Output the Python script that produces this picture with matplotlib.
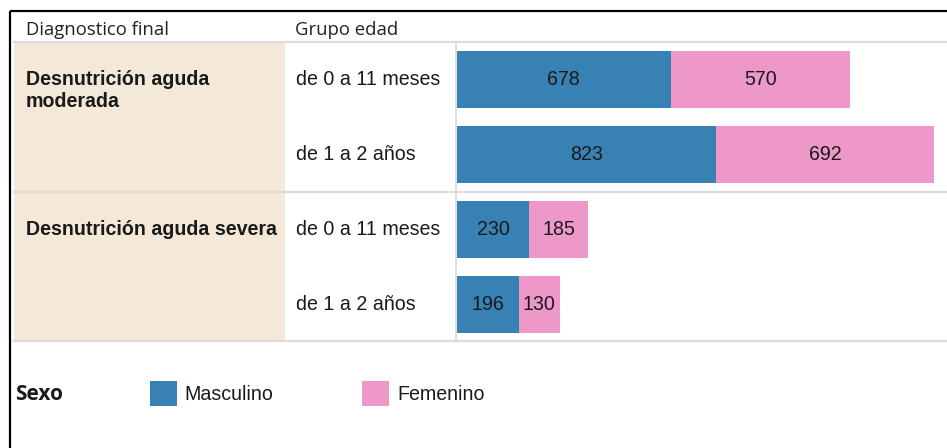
import matplotlib.pyplot as plt
from matplotlib.patches import Rectangle

# data
diagnosticos = ['Desnutrición aguda\nmoderada', 'Desnutrición aguda severa']
grupos = ['de 0 a 11 meses', 'de 1 a 2 años', 'de 0 a 11 meses', 'de 1 a 2 años']
masculino = [678, 823, 230, 196]
femenino = [570, 692, 185, 130]
series = ['Masculino', 'Femenino']

blue = '#3781b4'
pink = '#ee97c9'
beige = '#f4e9d8'
grid = '#dcdcdc'
txt = '#1a1a1a'
fs = 14.1

W, H = 947, 448
fig = plt.figure(figsize=(W / 100, H / 100), dpi=100)

# overlay in pixel coords for the table part
ax0 = fig.add_axes([0, 0, 1, 1])
ax0.set_xlim(0, W)
ax0.set_ylim(H, 0)
ax0.axis('off')

# frame
ax0.plot([9.5, W], [11.5, 11.5], color='black', lw=1.6, solid_capstyle='butt')
ax0.plot([9.5, 9.5], [11.5, H], color='black', lw=1.6, solid_capstyle='butt')

# header
hfont = dict(family='Open Sans', fontsize=13.3, color='#222222', va='center')
ax0.text(26, 30, 'Diagnostico final', **hfont)
ax0.text(295, 30, 'Grupo edad', **hfont)

# beige blocks and separators
ax0.add_patch(Rectangle((14, 43), 271, 148, color=beige, lw=0))
ax0.add_patch(Rectangle((14, 193), 271, 148, color=beige, lw=0))
for y in [42.5, 192, 341]:
    ax0.plot([14, W], [y, y], color=grid, lw=1.6)
ax0.plot([456, 456], [42, 341], color=grid, lw=1.3)

# diagnosis labels
bfont = dict(family='Liberation Sans', fontsize=fs, fontweight='bold', color=txt)
ax0.text(26, 70, diagnosticos[0], va='top', linespacing=1.2, **bfont)
ax0.text(26, 229.5, diagnosticos[1], va='center', **bfont)

# age group labels
row_y = [79.5, 154.5, 229.5, 304.5]
for y, g in zip(row_y, grupos):
    ax0.text(296, y, g, family='Liberation Sans', fontsize=fs, color=txt, va='center')

# legend
ax0.text(15, 395, 'Sexo', family='Open Sans', fontsize=15, fontweight='bold',
         color=txt, va='center')
ax0.add_patch(Rectangle((150, 381), 27, 25, color=blue, lw=0))
ax0.text(184, 395, series[0], family='Liberation Sans', fontsize=fs, color=txt, va='center')
ax0.add_patch(Rectangle((362, 381), 27, 25, color=pink, lw=0))
ax0.text(397, 395, series[1], family='Liberation Sans', fontsize=fs, color=txt, va='center')

# bars
bx0, bx1 = 457, W
by0, by1 = 42, 342
ax = fig.add_axes([bx0 / W, 1 - by1 / H, (bx1 - bx0) / W, (by1 - by0) / H])
ax.patch.set_alpha(0)
pos = list(range(len(masculino)))
b1 = ax.barh(pos, masculino, height=0.76, color=blue, label=series[0])
b2 = ax.barh(pos, femenino, left=masculino, height=0.76, color=pink, label=series[1])
ax.bar_label(b1, label_type='center', fontsize=fs, color=txt, family='Liberation Sans')
ax.bar_label(b2, label_type='center', fontsize=fs, color=txt, family='Liberation Sans')
ax.set_xlim(0, (bx1 - bx0) / 0.315)
ax.set_ylim(len(pos) - 0.5, -0.5)
ax.axis('off')

fig.savefig('out.png', dpi=100)
